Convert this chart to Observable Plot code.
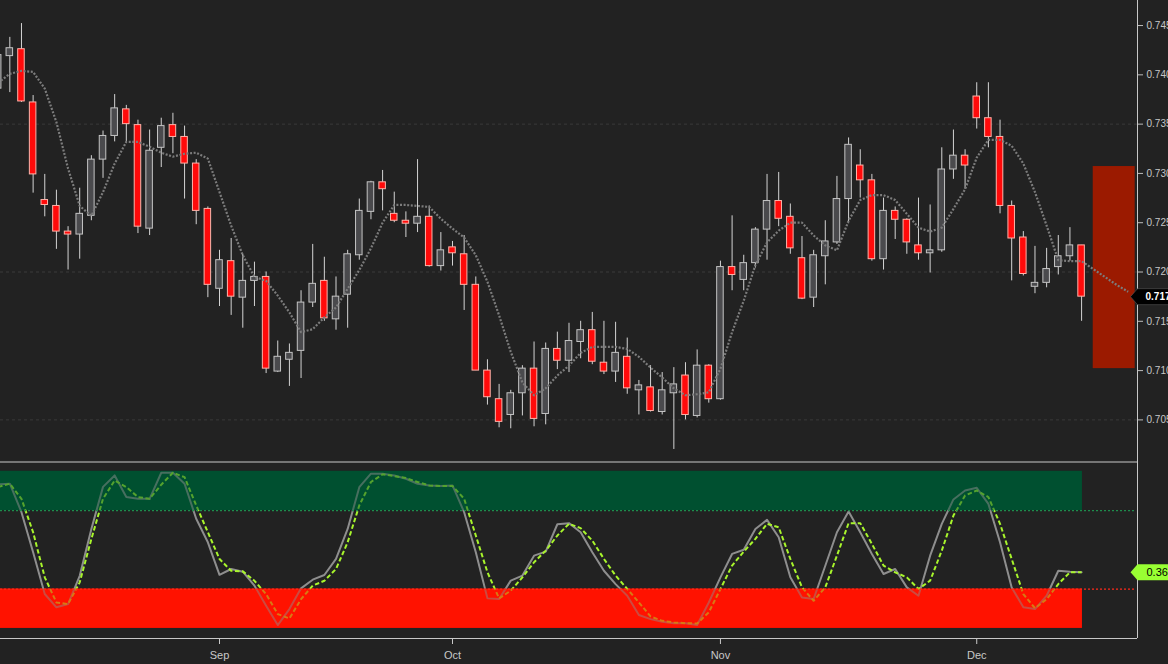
<!DOCTYPE html>
<html><head><meta charset="utf-8">
<script src="https://cdn.jsdelivr.net/npm/d3@7"></script>
<script src="https://cdn.jsdelivr.net/npm/@observablehq/plot@0.6"></script>
<style>
html,body{margin:0;padding:0;background:#222222;overflow:hidden;}
#chart{width:1168px;height:664px;}
#chart svg{display:block;}
</style></head><body><div id="chart"></div>
<script>
// ---- data ----
const firstIndex = -1;
const opens = [0.7386,0.7419,0.7426,0.7372,0.7273,0.7267,0.7241,0.7238,0.7257,0.7314,0.7338,0.7365,0.7349,0.7244,0.7326,0.7349,0.7337,0.7310,0.7264,0.7183,0.7211,0.7174,0.7191,0.7195,0.7099,0.7111,0.7120,0.7169,0.7191,0.7152,0.7177,0.7217,0.7261,0.7291,0.7259,0.7252,0.7249,0.7256,0.7206,0.7225,0.7218,0.7187,0.7100,0.7071,0.7055,0.7077,0.7102,0.7056,0.7122,0.7110,0.7129,0.7141,0.7108,0.7099,0.7114,0.7080,0.7083,0.7058,0.7077,0.7095,0.7054,0.7105,0.7071,0.7205,0.7192,0.7209,0.7243,0.7272,0.7256,0.7214,0.7174,0.7216,0.7230,0.7274,0.7308,0.7293,0.7213,0.7262,0.7253,0.7227,0.7219,0.7222,0.7304,0.7318,0.7378,0.7356,0.7337,0.7267,0.7235,0.7185,0.7189,0.7205,0.7216,0.7227];
const highs = [0.7423,0.7438,0.7452,0.7379,0.7299,0.7283,0.7246,0.7285,0.7318,0.7343,0.7380,0.7369,0.7354,0.7344,0.7356,0.7361,0.7348,0.7314,0.7266,0.7222,0.7234,0.7218,0.7210,0.7200,0.7130,0.7127,0.7181,0.7228,0.7215,0.7195,0.7222,0.7274,0.7292,0.7303,0.7281,0.7261,0.7314,0.7267,0.7240,0.7231,0.7237,0.7195,0.7111,0.7086,0.7080,0.7105,0.7129,0.7128,0.7139,0.7148,0.7150,0.7159,0.7150,0.7149,0.7133,0.7090,0.7105,0.7098,0.7103,0.7108,0.7121,0.7106,0.7211,0.7257,0.7217,0.7245,0.7299,0.7301,0.7269,0.7236,0.7222,0.7252,0.7297,0.7336,0.7324,0.7299,0.7275,0.7266,0.7254,0.7275,0.7268,0.7326,0.7344,0.7324,0.7392,0.7392,0.7354,0.7272,0.7241,0.7226,0.7224,0.7237,0.7245,0.7227];
const lows = [0.7384,0.7382,0.7372,0.7280,0.7256,0.7223,0.7202,0.7213,0.7252,0.7295,0.7332,0.7332,0.7239,0.7237,0.7306,0.7320,0.7274,0.7248,0.7174,0.7165,0.7156,0.7143,0.7165,0.7097,0.7098,0.7084,0.7092,0.7164,0.7150,0.7141,0.7143,0.7212,0.7253,0.7262,0.7250,0.7235,0.7240,0.7205,0.7201,0.7206,0.7161,0.7100,0.7065,0.7042,0.7041,0.7054,0.7043,0.7045,0.7101,0.7098,0.7112,0.7106,0.7096,0.7088,0.7076,0.7055,0.7058,0.7055,0.7020,0.7050,0.7052,0.7067,0.7070,0.7181,0.7181,0.7204,0.7212,0.7246,0.7218,0.7172,0.7164,0.7187,0.7228,0.7249,0.7275,0.7211,0.7202,0.7233,0.7218,0.7212,0.7199,0.7220,0.7294,0.7284,0.7345,0.7326,0.7259,0.7191,0.7196,0.7178,0.7184,0.7197,0.7211,0.7150];
const closes = [0.7420,0.7427,0.7373,0.7299,0.7268,0.7241,0.7238,0.7259,0.7314,0.7338,0.7366,0.7350,0.7246,0.7323,0.7348,0.7337,0.7310,0.7262,0.7187,0.7212,0.7175,0.7191,0.7195,0.7102,0.7114,0.7118,0.7169,0.7188,0.7153,0.7175,0.7218,0.7262,0.7291,0.7284,0.7252,0.7249,0.7256,0.7206,0.7222,0.7219,0.7187,0.7100,0.7073,0.7048,0.7077,0.7102,0.7051,0.7122,0.7110,0.7130,0.7141,0.7109,0.7099,0.7118,0.7082,0.7085,0.7059,0.7080,0.7086,0.7055,0.7105,0.7071,0.7205,0.7197,0.7209,0.7243,0.7272,0.7254,0.7224,0.7173,0.7217,0.7231,0.7274,0.7329,0.7293,0.7213,0.7262,0.7253,0.7230,0.7219,0.7222,0.7304,0.7318,0.7308,0.7356,0.7337,0.7267,0.7234,0.7198,0.7189,0.7203,0.7216,0.7227,0.7175];
// dotted average line (extends a few bars past the last candle)
const movingAvg = [0.7392,0.7401,0.7404,0.7403,0.7386,0.7352,0.7305,0.7267,0.7257,0.7281,0.7310,0.7332,0.7332,0.7327,0.7321,0.7317,0.7320,0.7321,0.7315,0.7281,0.7247,0.7217,0.7195,0.7191,0.7176,0.7159,0.7139,0.7142,0.7154,0.7164,0.7183,0.7202,0.7224,0.7250,0.7268,0.7268,0.7267,0.7266,0.7254,0.7244,0.7235,0.7217,0.7190,0.7156,0.7119,0.7088,0.7075,0.7082,0.7095,0.7105,0.7118,0.7124,0.7124,0.7124,0.7122,0.7114,0.7103,0.7093,0.7082,0.7075,0.7076,0.7078,0.7102,0.7139,0.7171,0.7207,0.7230,0.7242,0.7250,0.7250,0.7237,0.7227,0.7222,0.7252,0.7273,0.7278,0.7278,0.7273,0.7259,0.7245,0.7241,0.7245,0.7264,0.7284,0.7316,0.7334,0.7334,0.7328,0.7310,0.7281,0.7247,0.7212,0.7211,0.7211,0.7203,0.7195,0.7187,0.7180];
// oscillator
const stochK = [0.917,0.921,0.740,0.485,0.219,0.134,0.155,0.335,0.633,0.901,0.974,0.836,0.825,0.825,0.991,0.991,0.921,0.698,0.548,0.341,0.378,0.361,0.272,0.144,0.021,0.123,0.255,0.310,0.340,0.442,0.633,0.899,0.985,0.985,0.974,0.953,0.921,0.910,0.906,0.910,0.740,0.485,0.191,0.187,0.304,0.336,0.463,0.489,0.663,0.670,0.612,0.485,0.367,0.282,0.208,0.085,0.059,0.042,0.033,0.033,0.021,0.165,0.325,0.474,0.501,0.633,0.691,0.580,0.325,0.197,0.187,0.399,0.612,0.744,0.612,0.474,0.346,0.378,0.261,0.208,0.463,0.665,0.821,0.878,0.895,0.793,0.548,0.261,0.134,0.123,0.208,0.367,0.361,0.357];
const stochD = [0.900,0.921,0.825,0.612,0.325,0.165,0.155,0.293,0.569,0.825,0.942,0.900,0.836,0.825,0.915,0.991,0.963,0.783,0.612,0.442,0.367,0.363,0.303,0.218,0.091,0.063,0.186,0.272,0.303,0.378,0.548,0.783,0.932,0.981,0.970,0.957,0.932,0.910,0.906,0.906,0.825,0.591,0.357,0.191,0.240,0.325,0.421,0.495,0.591,0.666,0.638,0.559,0.442,0.336,0.251,0.165,0.076,0.048,0.038,0.033,0.031,0.102,0.251,0.400,0.489,0.570,0.666,0.644,0.442,0.261,0.176,0.261,0.463,0.670,0.670,0.538,0.400,0.357,0.325,0.251,0.304,0.495,0.718,0.846,0.878,0.836,0.666,0.442,0.218,0.129,0.186,0.282,0.357,0.357];
const upperZone = [0.75, 1.0];
const lowerZone = [0.0, 0.25];
// projected range box (bars 93..96.6)
const rangeBox = {start: 93.0, end: 96.6, low: 0.7102, high: 0.7307};
const priceTicks = [0.705,0.710,0.715,0.720,0.725,0.730,0.735,0.740,0.745];
const gridLevels = [0.705,0.720,0.735];
const monthTicks = [18, 38, 61, 83];
const monthLabels = ["Sep", "Oct", "Nov", "Dec"];

// ---- build tables ----
const candles = opens.map((o, k) => ({i: firstIndex + k, open: o, high: highs[k], low: lows[k], close: closes[k]}));
const maData = movingAvg.map((v, k) => ({i: firstIndex + k, v}));
const kData = stochK.map((v, k) => ({i: firstIndex + k, v}));
const dData = stochD.map((v, k) => ({i: firstIndex + k, v}));
const lastI = candles[candles.length - 1].i;
const xDomain = [-0.8, 96.8];
const font = "'Liberation Sans', Arial, sans-serif";

const tagSymbol = {draw(ctx) { ctx.moveTo(-7, 0); ctx.lineTo(0, -8); ctx.lineTo(45, -8); ctx.lineTo(45, 8); ctx.lineTo(0, 8); ctx.closePath(); }};
const lastClose = closes[closes.length - 1];
const lastD = stochD[stochD.length - 1];

const pricePlot = Plot.plot({
  width: 1168, height: 461,
  marginLeft: 0, marginRight: 31, marginTop: 0, marginBottom: 0,
  style: {background: "#222222", color: "#c8c8c8", fontFamily: font, fontSize: "10px"},
  x: {domain: xDomain, axis: null},
  y: {domain: [0.70078, 0.74754], axis: null},
  marks: [
    Plot.ruleY(gridLevels, {stroke: "#3a3a3a", strokeDasharray: "3,3"}),
    Plot.rect([rangeBox], {x1: "start", x2: "end", y1: "low", y2: "high", fill: "#9b1a00"}),
    Plot.ruleX(candles, {x: "i", y1: "low", y2: "high", stroke: "#d4d4d4", strokeWidth: 1}),
    Plot.rect(candles, {
      x1: d => d.i - 0.28, x2: d => d.i + 0.28, y1: "open", y2: "close",
      fill: d => d.close < d.open ? "#ff0a0a" : "#4a4a4d",
      stroke: d => d.close < d.open ? "#ffb4aa" : "#c4c4c4", strokeWidth: 1
    }),
    Plot.line(maData, {x: "i", y: "v", stroke: "#7c7c7c", strokeWidth: 2.2, strokeDasharray: "2,1.6", strokeLinecap: "butt"}),
    Plot.axisY(priceTicks, {anchor: "right", tickFormat: d3.format(".3f"), tickSize: 5, tickPadding: 4, stroke: "#bdbdbd", fill: "#c8c8c8", fontSize: 10}),
    Plot.ruleX([xDomain[1]], {stroke: "#c8c8c8"}),
    Plot.dot([{x: xDomain[1], y: lastClose}], {x: "x", y: "y", symbol: tagSymbol, fill: "#000", stroke: "#555", strokeWidth: 0.6, r: 8}),
    Plot.text([{x: xDomain[1], y: lastClose}], {x: "x", y: "y", text: d => d3.format(".4f")(d.y), dx: 8, textAnchor: "start", fill: "#fff", fontWeight: "bold", fontSize: 10})
  ]
});

const zones = [
  {start: xDomain[0], end: lastI + 0.07, lo: upperZone[0], hi: upperZone[1]},
  {start: xDomain[0], end: lastI + 0.07, lo: lowerZone[0], hi: lowerZone[1]}
];
const yOsc = [-0.0645, 1.0626];
const levelLines = [{y: upperZone[0], x1: xDomain[0], x2: 96.6}, {y: lowerZone[1], x1: xDomain[0], x2: 96.6}];

const oscPlot = Plot.plot({
  width: 1168, height: 203,
  marginLeft: 0, marginRight: 31, marginTop: 0, marginBottom: 26,
  style: {background: "#222222", color: "#c8c8c8", fontFamily: font, fontSize: "11px"},
  x: {domain: xDomain, axis: null},
  y: {domain: yOsc, axis: null},
  marks: [
    Plot.rect([zones[0]], {x1: "start", x2: "end", y1: "lo", y2: "hi", fill: "#005030"}),
    Plot.rect([zones[1]], {x1: "start", x2: "end", y1: "lo", y2: "hi", fill: "#ff1200"}),
    Plot.line(kData, {x: "i", y: "v", stroke: "#8e8e8e", strokeWidth: 2}),
    Plot.line(dData, {x: "i", y: "v", stroke: "#a8f52c", strokeWidth: 2, strokeDasharray: "4.5,2.5", strokeLinecap: "butt"}),
    Plot.rect([zones[0]], {x1: "start", x2: "end", y1: "lo", y2: "hi", fill: "#005030", fillOpacity: 0.5}),
    Plot.rect([zones[1]], {x1: "start", x2: "end", y1: "lo", y2: "hi", fill: "#ff1200", fillOpacity: 0.55}),
    Plot.ruleY([levelLines[0]], {y: "y", x1: "x1", x2: "x2", stroke: "#1e8c4c", strokeDasharray: "2,2", strokeWidth: 1.2}),
    Plot.ruleY([levelLines[1]], {y: "y", x1: "x1", x2: "x2", stroke: "#ff2a1a", strokeDasharray: "2,2", strokeWidth: 1.2}),
    Plot.ruleY([yOsc[1]], {x1: xDomain[0], x2: xDomain[1], stroke: "#c8c8c8", dy: 0.5}),
    Plot.ruleY([yOsc[0]], {x1: xDomain[0], x2: xDomain[1], stroke: "#c8c8c8"}),
    Plot.ruleX([xDomain[1]], {y1: yOsc[0], y2: yOsc[1], stroke: "#c8c8c8"}),
    Plot.axisX(monthTicks, {anchor: "bottom", tickFormat: d => monthLabels[monthTicks.indexOf(d)], tickSize: 6, tickPadding: 7, stroke: "#c8c8c8", fill: "#c8c8c8", fontSize: 11}),
    Plot.dot([{x: xDomain[1], y: lastD}], {x: "x", y: "y", symbol: tagSymbol, fill: "#99ff33", r: 8}),
    Plot.text([{x: xDomain[1], y: lastD}], {x: "x", y: "y", text: d => d3.format(".2f")(d.y), dx: 9, textAnchor: "start", fill: "#000", fontSize: 11})
  ]
});

const root = document.getElementById("chart");
root.appendChild(pricePlot);
root.appendChild(oscPlot);
</script>
</body></html>
